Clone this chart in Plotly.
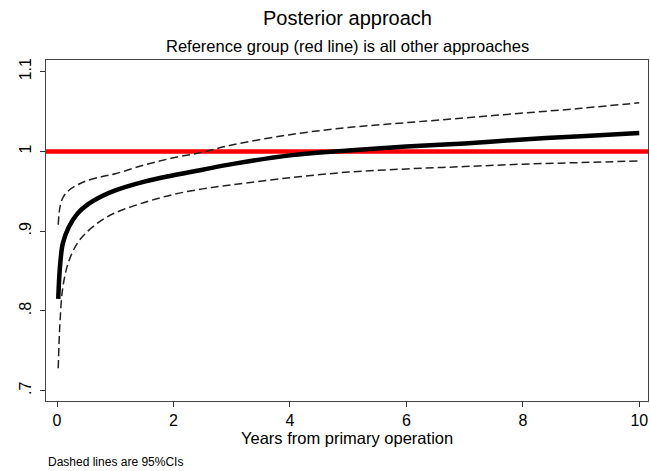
import plotly.graph_objects as go

years = [0.02, 0.05, 0.1, 0.2, 0.35, 0.5, 0.75, 1, 1.5, 2, 2.5, 3, 4, 5, 6, 7, 8, 9, 10]
estimate = [0.815, 0.855, 0.885, 0.905, 0.922, 0.932, 0.943, 0.951, 0.962, 0.970, 0.977,
            0.984, 0.995, 1.001, 1.006, 1.010, 1.015, 1.019, 1.023]
upper_ci = [0.908, 0.930, 0.942, 0.951, 0.958, 0.963, 0.968, 0.972, 0.983, 0.992, 0.999,
            1.008, 1.021, 1.030, 1.036, 1.042, 1.048, 1.054, 1.061]
lower_ci = [0.728, 0.785, 0.830, 0.862, 0.885, 0.898, 0.913, 0.923, 0.936, 0.946, 0.953,
            0.958, 0.967, 0.974, 0.978, 0.981, 0.984, 0.986, 0.988]
reference_value = 1.0
x_ticks = [0, 2, 4, 6, 8, 10]
y_ticks = [0.7, 0.8, 0.9, 1.0, 1.1]
y_tick_labels = [".7", ".8", ".9", "1", "1.1"]

FONT = "Liberation Sans, Arial, sans-serif"

fig = go.Figure()
fig.add_hline(y=reference_value, line=dict(color="#ff0000", width=4.5), layer="below")
for ci in (upper_ci, lower_ci):
    fig.add_trace(go.Scatter(x=years, y=ci, mode="lines", line_shape="spline",
                             line=dict(color="#222222", width=1.5, dash="8px,4px"),
                             showlegend=False, hoverinfo="skip"))
fig.add_trace(go.Scatter(x=years, y=estimate, mode="lines", line_shape="spline",
                         line=dict(color="black", width=4.5), showlegend=False))

fig.update_layout(
    width=650, height=471,
    margin=dict(l=46, r=2, t=60, b=70),
    paper_bgcolor="white", plot_bgcolor="white",
    font=dict(family=FONT, color="black"),
    showlegend=False,
    xaxis=dict(range=[-0.19, 10.15], tickvals=x_ticks, ticks="outside", ticklen=5,
               tickcolor="#333", showgrid=False, zeroline=False, showline=True,
               linecolor="#444", linewidth=1, mirror=True, tickfont=dict(size=16)),
    yaxis=dict(range=[0.687, 1.1146], tickvals=y_ticks, ticktext=y_tick_labels,
               ticks="outside", ticklen=5, tickcolor="#333", tickangle=-90,
               ticklabelstandoff=3,
               showgrid=False, zeroline=False, showline=True, linecolor="#444",
               linewidth=1, mirror=True, tickfont=dict(size=16)),
    annotations=[
        dict(text="Posterior approach", xref="paper", yref="paper", x=0.5, y=1.1232,
             xanchor="center", yanchor="middle", showarrow=False, font=dict(size=20)),
        dict(text="Reference group (red line) is all other approaches", xref="paper",
             yref="paper", x=0.5, y=1.041, xanchor="center", yanchor="middle",
             showarrow=False, font=dict(size=16.5)),
        dict(text="Years from primary operation", xref="paper", yref="paper", x=0.5,
             y=-0.1085, xanchor="center", yanchor="middle", showarrow=False,
             font=dict(size=16.5)),
        dict(text="Dashed lines are 95%CIs", xref="paper", yref="paper", x=0, y=-0.179,
             xanchor="left", yanchor="middle", showarrow=False, font=dict(size=12)),
    ],
)

fig.write_html("out.html")
